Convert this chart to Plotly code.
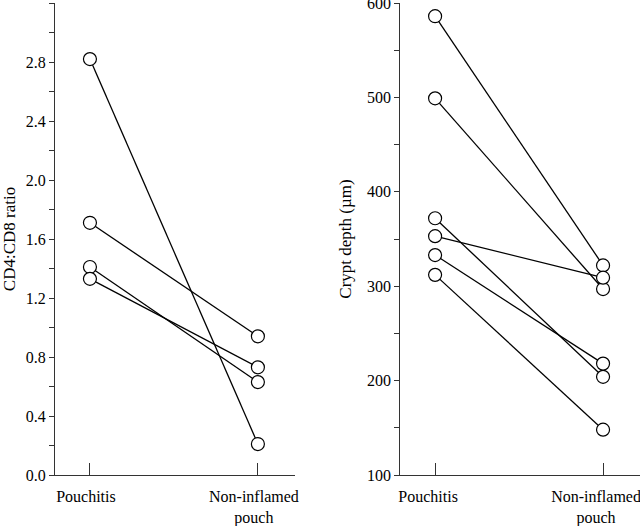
import plotly.graph_objects as go

categories = ["Pouchitis", "Non-inflamed<br>pouch"]

# CD4:CD8 ratio pairs (pouchitis, non-inflamed)
cd4_pouchitis = [2.82, 1.71, 1.41, 1.33]
cd4_noninfl = [0.21, 0.94, 0.63, 0.73]

# Crypt depth pairs (µm)
crypt_pouchitis = [586, 499, 372, 353, 333, 312]
crypt_noninfl = [322, 297, 204, 309, 218, 148]

FONT = "Liberation Serif, Times New Roman, serif"

fig = go.Figure()

for a, b in zip(cd4_pouchitis, cd4_noninfl):
    fig.add_trace(go.Scatter(x=[0, 1], y=[a, b], mode="lines+markers",
                             line=dict(color="black", width=1.3),
                             marker=dict(symbol="circle", size=13, color="white",
                                         line=dict(width=1.2, color="black")),
                             xaxis="x", yaxis="y", showlegend=False))
for a, b in zip(crypt_pouchitis, crypt_noninfl):
    fig.add_trace(go.Scatter(x=[0, 1], y=[a, b], mode="lines+markers",
                             line=dict(color="black", width=1.3),
                             marker=dict(symbol="circle", size=13, color="white",
                                         line=dict(width=1.2, color="black")),
                             xaxis="x2", yaxis="y2", showlegend=False))

xcommon = dict(range=[-0.208, 1.22], tickvals=[0, 1], ticktext=categories,
               ticks="inside", ticklen=12, tickwidth=1, tickcolor="#333",
               showline=True, linecolor="#333", linewidth=1, showgrid=False,
               zeroline=False, ticklabeloverflow="allow", automargin=False,
               ticklabelstandoff=7,
               tickfont=dict(family=FONT, size=16, color="black"))
ycommon = dict(ticks="outside", ticklen=5, tickwidth=1, tickcolor="#333",
               showline=True, linecolor="#333", linewidth=1, showgrid=False,
               zeroline=False, ticklabeloverflow="allow", automargin=False,
               tickfont=dict(family=FONT, size=16, color="black"),
               title_font=dict(family=FONT, size=17, color="black"))

fig.update_layout(
    width=640, height=526,
    margin=dict(l=55, r=0, t=3, b=51),
    paper_bgcolor="white", plot_bgcolor="white",
    xaxis=dict(domain=[0, 0.41], anchor="y", ticklabelshift=-4, **xcommon),
    xaxis2=dict(domain=[0.59, 1], anchor="y2", ticklabelshift=-7, **xcommon),
    yaxis=dict(anchor="x", range=[0, 3.2], tickvals=[0, 0.4, 0.8, 1.2, 1.6, 2.0, 2.4, 2.8],
               ticktext=["0.0", "0.4", "0.8", "1.2", "1.6", "2.0", "2.4", "2.8"],
               minor=dict(dtick=0.2, tick0=0, ticks="outside", ticklen=5, tickcolor="#333"),
               title=dict(text="CD4:CD8 ratio", standoff=8), **ycommon),
    yaxis2=dict(anchor="x2", range=[100, 600], tickvals=[100, 200, 300, 400, 500, 600],
                minor=dict(dtick=50, tick0=100, ticks="outside", ticklen=5, tickcolor="#333"),
                title=dict(text="Crypt depth (µm)", standoff=11), **ycommon),
)

fig.write_html("out.html", config={"displayModeBar": False},
               post_script="document.body.style.margin='0';document.body.style.overflow='hidden';")
